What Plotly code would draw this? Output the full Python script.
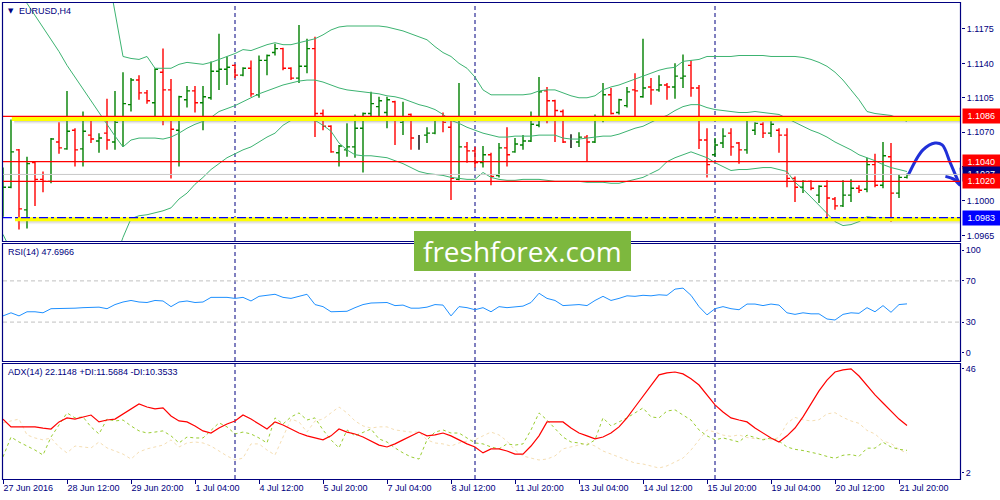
import plotly.graph_objects as go
import pandas as pd

# ------------------------------------------------------------------ data
symbol_title = "EURUSD,H4"
first_bar = "2016-06-27 04:00"

opens = [
    1.0999, 1.1014, 1.1052, 1.0991, 1.1039, 1.1022, 1.1020, 1.1060, 1.1053, 1.1072,
    1.1053, 1.1067, 1.1061, 1.1069, 1.1060, 1.1082, 1.1098, 1.1123, 1.1110, 1.1100,
    1.1131, 1.1113, 1.1072, 1.1103, 1.1112, 1.1100, 1.1105, 1.1132, 1.1134, 1.1138,
    1.1128, 1.1135, 1.1108, 1.1143, 1.1151, 1.1155, 1.1135, 1.1125, 1.1137, 1.1155,
    1.1089, 1.1076, 1.1049, 1.1052, 1.1055, 1.1074, 1.1089, 1.1096, 1.1090, 1.1101,
    1.1080, 1.1088, 1.1063, 1.1067, 1.1069, 1.1084, 1.1075, 1.1022, 1.1055, 1.1051,
    1.1039, 1.1047, 1.1026, 1.1054, 1.1050, 1.1057, 1.1061, 1.1077, 1.1112, 1.1102,
    1.1091, 1.1063, 1.1060, 1.1065, 1.1060, 1.1085, 1.1108, 1.1090, 1.1097, 1.1113,
    1.1106, 1.1116, 1.1113, 1.1118, 1.1116, 1.1125, 1.1138, 1.1115, 1.1062, 1.1047,
    1.1059, 1.1069, 1.1059, 1.1052, 1.1072, 1.1078, 1.1069, 1.1072, 1.1067, 1.1023,
    1.1014, 1.1020, 1.1006, 1.1015, 1.1002, 1.0995, 1.1006, 1.1013, 1.1012, 1.1037,
    1.1016, 1.1045, 1.1008, 1.1024]
highs = [
    1.1034, 1.1083, 1.1053, 1.1045, 1.1040, 1.1030, 1.1064, 1.1080, 1.1112, 1.1074,
    1.1091, 1.1082, 1.1069, 1.1104, 1.1112, 1.1131, 1.1125, 1.1128, 1.1113, 1.1135,
    1.1155, 1.1124, 1.1107, 1.1117, 1.1117, 1.1117, 1.1142, 1.1170, 1.1147, 1.1139,
    1.1136, 1.1143, 1.1148, 1.1149, 1.1160, 1.1156, 1.1136, 1.1179, 1.1165, 1.1167,
    1.1093, 1.1077, 1.1057, 1.1079, 1.1088, 1.1090, 1.1111, 1.1106, 1.1106, 1.1102,
    1.1101, 1.1089, 1.1067, 1.1075, 1.1084, 1.1090, 1.1082, 1.1120, 1.1060, 1.1055,
    1.1056, 1.1049, 1.1059, 1.1075, 1.1064, 1.1067, 1.1091, 1.1126, 1.1116, 1.1103,
    1.1093, 1.1068, 1.1070, 1.1067, 1.1088, 1.1120, 1.1115, 1.1104, 1.1116, 1.1130,
    1.1165, 1.1125, 1.1128, 1.1120, 1.1140, 1.1149, 1.1143, 1.1118, 1.1074, 1.1064,
    1.1074, 1.1074, 1.1060, 1.1084, 1.1080, 1.1080, 1.1081, 1.1074, 1.1074, 1.1025,
    1.1021, 1.1021, 1.1016, 1.1021, 1.1004, 1.1021, 1.1022, 1.1016, 1.1044, 1.1048,
    1.1060, 1.1059, 1.1027, 1.1028]
lows = [
    1.0984, 1.1013, 1.0971, 1.0972, 1.0995, 1.1009, 1.1018, 1.1048, 1.1052, 1.1035,
    1.1035, 1.1059, 1.1049, 1.1052, 1.1052, 1.1055, 1.1091, 1.1103, 1.1099, 1.1086,
    1.1077, 1.1023, 1.1035, 1.1095, 1.1090, 1.1072, 1.1103, 1.1113, 1.1118, 1.1125,
    1.1127, 1.1106, 1.1105, 1.1128, 1.1148, 1.1133, 1.1123, 1.1120, 1.1130, 1.1065,
    1.1072, 1.1049, 1.1035, 1.1045, 1.1044, 1.1029, 1.1082, 1.1084, 1.1074, 1.1057,
    1.1067, 1.1052, 1.1052, 1.1059, 1.1068, 1.1070, 1.1001, 1.1021, 1.1039, 1.1034,
    1.1034, 1.1016, 1.1024, 1.1035, 1.1049, 1.1052, 1.1060, 1.1075, 1.1079, 1.1060,
    1.1059, 1.1054, 1.1055, 1.1040, 1.1059, 1.1080, 1.1088, 1.1088, 1.1095, 1.1085,
    1.1105, 1.1098, 1.1111, 1.1103, 1.1104, 1.1115, 1.1106, 1.1053, 1.1024, 1.1045,
    1.1054, 1.1046, 1.1038, 1.1048, 1.1067, 1.1064, 1.1065, 1.1049, 1.1014, 1.0999,
    1.1008, 1.1011, 1.0998, 1.0982, 1.0991, 1.0994, 1.0999, 1.1008, 1.1009, 1.1014,
    1.1013, 1.0979, 1.1003, 1.1023]
closes = [
    1.1014, 1.1050, 1.0992, 1.1038, 1.1022, 1.1020, 1.1063, 1.1054, 1.1071, 1.1052,
    1.1071, 1.1063, 1.1064, 1.1062, 1.1080, 1.1099, 1.1123, 1.1110, 1.1102, 1.1134,
    1.1113, 1.1073, 1.1106, 1.1112, 1.1100, 1.1106, 1.1132, 1.1134, 1.1136, 1.1128,
    1.1135, 1.1109, 1.1143, 1.1148, 1.1155, 1.1135, 1.1125, 1.1137, 1.1155, 1.1089,
    1.1076, 1.1050, 1.1056, 1.1055, 1.1074, 1.1089, 1.1099, 1.1102, 1.1103, 1.1085,
    1.1085, 1.1064, 1.1063, 1.1069, 1.1082, 1.1080, 1.1023, 1.1055, 1.1051, 1.1039,
    1.1047, 1.1025, 1.1054, 1.1047, 1.1058, 1.1061, 1.1078, 1.1111, 1.1102, 1.1092,
    1.1060, 1.1063, 1.1065, 1.1060, 1.1085, 1.1108, 1.1089, 1.1103, 1.1111, 1.1112,
    1.1115, 1.1113, 1.1118, 1.1116, 1.1127, 1.1127, 1.1115, 1.1062, 1.1037, 1.1057,
    1.1066, 1.1055, 1.1052, 1.1082, 1.1079, 1.1069, 1.1078, 1.1067, 1.1023, 1.1014,
    1.1020, 1.1013, 1.1015, 1.1003, 1.0995, 1.1006, 1.1013, 1.1011, 1.1037, 1.1016,
    1.1046, 1.1008, 1.1024, 1.1027]

bb_upper = [
    1.1512, 1.1505, 1.1495, 1.1480, 1.1465, 1.1445, 1.1425, 1.1400, 1.1375, 1.1350,
    1.1325, 1.1300, 1.1275, 1.1237, 1.1192, 1.1147, 1.1145, 1.1144, 1.1147, 1.1135,
    1.1135, 1.1135, 1.1139, 1.1141, 1.1140, 1.1139, 1.1141, 1.1144, 1.1147, 1.1150,
    1.1154, 1.1153, 1.1156, 1.1159, 1.1161, 1.1159, 1.1159, 1.1161, 1.1163, 1.1165,
    1.1169, 1.1174, 1.1177, 1.1178, 1.1178, 1.1178, 1.1178, 1.1178, 1.1177, 1.1175,
    1.1173, 1.1170, 1.1167, 1.1164, 1.1157, 1.1151, 1.1147, 1.1140, 1.1135, 1.1126,
    1.1113, 1.1108, 1.1108, 1.1108, 1.1108, 1.1108, 1.1109, 1.1112, 1.1113, 1.1113,
    1.1110, 1.1107, 1.1105, 1.1105, 1.1107, 1.1113, 1.1116, 1.1118, 1.1121, 1.1124,
    1.1127, 1.1130, 1.1133, 1.1135, 1.1136, 1.1142, 1.1143, 1.1144, 1.1147, 1.1147,
    1.1147, 1.1147, 1.1148, 1.1148, 1.1148, 1.1148, 1.1147, 1.1147, 1.1147, 1.1147,
    1.1146, 1.1144, 1.1141, 1.1137, 1.1131, 1.1123, 1.1113, 1.1103, 1.1091, 1.1089,
    1.1088, 1.1087, 1.1084, 1.1081]
bb_middle = [
    1.1239, 1.1227, 1.1214, 1.1201, 1.1189, 1.1176, 1.1164, 1.1152, 1.1138, 1.1126,
    1.1114, 1.1101, 1.1089, 1.1077, 1.1066, 1.1055, 1.1062, 1.1064, 1.1064, 1.1064,
    1.1063, 1.1065, 1.1069, 1.1074, 1.1078, 1.1081, 1.1085, 1.1091, 1.1094, 1.1097,
    1.1101, 1.1105, 1.1109, 1.1112, 1.1115, 1.1118, 1.1120, 1.1122, 1.1123, 1.1123,
    1.1121, 1.1118, 1.1115, 1.1113, 1.1112, 1.1111, 1.1110, 1.1109, 1.1107, 1.1106,
    1.1104, 1.1101, 1.1098, 1.1096, 1.1093, 1.1088, 1.1082, 1.1079, 1.1075, 1.1072,
    1.1069, 1.1067, 1.1065, 1.1065, 1.1066, 1.1066, 1.1066, 1.1067, 1.1067, 1.1067,
    1.1064, 1.1063, 1.1063, 1.1064, 1.1065, 1.1066, 1.1066, 1.1068, 1.1071, 1.1074,
    1.1076, 1.1080, 1.1084, 1.1087, 1.1092, 1.1096, 1.1098, 1.1098, 1.1095, 1.1093,
    1.1092, 1.1091, 1.1090, 1.1090, 1.1091, 1.1090, 1.1089, 1.1088, 1.1084, 1.1080,
    1.1076, 1.1072, 1.1069, 1.1065, 1.1060, 1.1056, 1.1052, 1.1047, 1.1044, 1.1041,
    1.1037, 1.1034, 1.1032, 1.1030]
bb_lower = [
    1.0966, 1.0949, 1.0933, 1.0922, 1.0913, 1.0907, 1.0903, 1.0904, 1.0901, 1.0902,
    1.0903, 1.0902, 1.0903, 1.0917, 1.0940, 1.0963, 1.0982, 1.0985, 1.0986, 1.0988,
    1.0990, 1.0993, 1.1002, 1.1008, 1.1017, 1.1024, 1.1032, 1.1038, 1.1044, 1.1048,
    1.1052, 1.1055, 1.1060, 1.1065, 1.1069, 1.1077, 1.1082, 1.1084, 1.1083, 1.1082,
    1.1077, 1.1071, 1.1059, 1.1052, 1.1047, 1.1046, 1.1046, 1.1045, 1.1044, 1.1041,
    1.1038, 1.1034, 1.1030, 1.1028, 1.1027, 1.1026, 1.1024, 1.1023, 1.1022, 1.1022,
    1.1029, 1.1024, 1.1022, 1.1021, 1.1021, 1.1022, 1.1022, 1.1022, 1.1021, 1.1020,
    1.1020, 1.1020, 1.1020, 1.1019, 1.1019, 1.1019, 1.1018, 1.1018, 1.1020, 1.1022,
    1.1024, 1.1028, 1.1032, 1.1040, 1.1044, 1.1047, 1.1050, 1.1047, 1.1044, 1.1039,
    1.1035, 1.1031, 1.1032, 1.1032, 1.1033, 1.1034, 1.1034, 1.1032, 1.1030, 1.1019,
    1.1012, 1.1004, 1.0996, 1.0987, 1.0979, 1.0975, 1.0976, 1.0979, 1.0984, 1.0983,
    1.0983, 1.0982, 1.0981, 1.0981]

rsi = [
    36, 39, 36, 40, 40, 39, 43, 43, 43.5, 43.5,
    44, 44, 44.5, 43, 47, 49.5, 51, 49.5, 49, 51,
    50.5, 45, 49.5, 50.5, 49, 49.5, 54, 54, 54, 53,
    54, 50.5, 55, 56, 57, 54, 53, 55, 57, 47,
    45, 40, 40, 40.5, 44, 47, 48.5, 49, 49, 46,
    46.5, 43.5, 43.5, 44.5, 47, 46.5, 36, 45, 44, 42,
    44, 40, 45, 44, 45, 45.5, 49, 58, 53, 51,
    46, 46.5, 47, 46, 51, 55, 51, 53, 55.5, 55,
    56, 55.5, 56.5, 56, 62, 63, 56, 45, 37, 43,
    45, 43, 42, 47.5, 47.5, 46, 47.5, 46.5, 39, 37.5,
    39, 38, 38, 33, 32, 37.5, 39, 38.5, 44, 40,
    46, 39.5, 47, 47.6966]

adx = [
    24.8, 21.5, 21.5, 21.5, 21.5, 21.0, 20.6, 23.6, 25.3, 24.8,
    25.7, 26.5, 23.6, 24.4, 24.8, 27.0, 29.1, 31.2, 29.9, 29.1,
    29.5, 26.1, 24.0, 23.6, 21.9, 19.8, 18.9, 21.0, 22.7, 24.0,
    26.5, 24.8, 22.7, 20.6, 23.6, 22.3, 20.6, 18.9, 17.7, 16.8,
    16.0, 17.7, 20.6, 19.3, 18.5, 17.2, 15.5, 13.8, 13.0, 14.3,
    16.0, 17.7, 19.3, 17.7, 18.1, 18.9, 17.7, 16.0, 14.3, 13.0,
    10.5, 12.2, 12.2, 11.3, 10.0, 10.0, 13.4, 17.7, 23.6, 23.6,
    23.6, 21.0, 18.9, 17.7, 16.4, 17.2, 18.9, 21.5, 25.3, 29.9,
    34.6, 39.2, 43.5, 44.3, 44.7, 43.9, 41.8, 39.2, 35.0, 30.8,
    27.8, 25.3, 24.4, 23.6, 21.0, 18.9, 16.8, 15.1, 17.7, 21.0,
    25.7, 31.2, 36.7, 41.3, 44.7, 45.6, 46.0, 43.0, 38.8, 35.0,
    31.6, 28.2, 24.8, 22.1148]
plus_di = [
    8.8, 17.2, 15.1, 13.4, 11.7, 9.6, 17.2, 22.3, 27.4, 25.3,
    25.7, 21.5, 18.5, 24.8, 24.0, 24.4, 21.9, 19.8, 18.9, 19.3,
    19.8, 17.7, 14.7, 17.2, 16.8, 16.8, 20.2, 23.2, 21.5, 18.5,
    19.3, 18.5, 16.8, 14.7, 25.3, 22.7, 25.7, 27.4, 24.4, 25.3,
    20.2, 16.0, 12.6, 20.2, 17.7, 19.3, 20.6, 16.4, 15.1, 12.6,
    10.5, 8.8, 7.9, 16.0, 19.3, 20.2, 18.9, 18.9, 16.8, 14.7,
    14.3, 13.0, 12.2, 14.3, 13.8, 14.3, 20.2, 27.4, 24.4, 21.0,
    17.2, 15.1, 14.7, 13.8, 16.0, 25.3, 21.9, 23.6, 25.3, 27.4,
    29.5, 25.7, 25.3, 28.2, 28.7, 26.5, 24.4, 20.2, 17.7, 16.0,
    16.8, 16.0, 15.1, 18.0, 17.0, 16.0, 16.8, 15.5, 13.0, 12.0,
    11.5, 10.8, 10.0, 9.0, 8.2, 9.5, 9.8, 9.0, 12.5, 12.5,
    15.0, 13.0, 12.0, 11.5684]
minus_di = [
    23.2, 24.0, 24.8, 18.1, 16.8, 16.0, 16.8, 13.0, 10.5, 13.4,
    13.0, 12.6, 15.1, 12.6, 11.3, 10.0, 7.9, 10.9, 12.2, 13.0,
    13.8, 16.0, 13.0, 14.7, 15.1, 14.7, 13.4, 11.3, 9.2, 7.5,
    8.3, 14.3, 14.3, 11.7, 9.6, 17.2, 24.8, 23.6, 19.3, 24.0,
    24.8, 27.4, 29.9, 27.4, 24.0, 21.9, 21.0, 21.5, 21.5, 20.2,
    19.8, 19.3, 19.3, 16.0, 14.7, 14.3, 13.4, 14.7, 15.5, 16.0,
    17.7, 19.3, 18.1, 15.5, 11.7, 9.2, 8.3, 7.5, 7.9, 9.2,
    12.2, 13.0, 13.8, 14.7, 13.4, 11.3, 10.0, 8.8, 7.5, 6.2,
    5.8, 5.0, 4.1, 5.0, 6.7, 8.3, 11.7, 16.0, 20.2, 19.3,
    18.0, 17.5, 18.1, 17.0, 16.5, 16.5, 16.0, 17.0, 23.0, 25.5,
    24.5, 24.0, 24.5, 27.0, 27.5, 25.5, 24.0, 23.0, 20.0, 18.5,
    15.5, 14.5, 12.0, 10.3533]

tick_times = ["2016-06-27 04:00", "2016-06-28 12:00", "2016-06-29 20:00",
              "2016-07-01 04:00", "2016-07-04 12:00", "2016-07-05 20:00",
              "2016-07-07 04:00", "2016-07-08 12:00", "2016-07-11 20:00",
              "2016-07-13 04:00", "2016-07-14 12:00", "2016-07-15 20:00",
              "2016-07-19 04:00", "2016-07-20 12:00", "2016-07-21 20:00"]
tick_labels = ["27 Jun 2016", "28 Jun 12:00", "29 Jun 20:00", "1 Jul 04:00",
               "4 Jul 12:00", "5 Jul 20:00", "7 Jul 04:00", "8 Jul 12:00",
               "11 Jul 20:00", "13 Jul 04:00", "14 Jul 12:00", "15 Jul 20:00",
               "19 Jul 04:00", "20 Jul 12:00", "21 Jul 20:00"]
price_ticks = [1.0965, 1.1000, 1.1035, 1.1070, 1.1105, 1.1140, 1.1175]
rsi_ticks = [0, 30, 70, 100]
rsi_levels = [30, 70]
adx_ticks = [2, 46]

red_levels = [1.1086, 1.1040, 1.1020]
bid_price = 1.1027
support_level = 1.0983
zone_tops = [1.10855, 1.09835]
zone_start_bar = [1.1, 1.5]
price_tags = [("1.1086", 1.1086, "#FF0000"), ("1.1040", 1.1040, "#FF0000"),
              ("1.1027", 1.1027, "#000080"), ("1.1020", 1.1020, "#FF0000"),
              ("1.0983", 1.0983, "#0000FF")]

forecast_x = [113.2, 115.0, 116.5, 117.4, 118.4, 119.3, 119.7]
forecast_y = [1.1027, 1.1052, 1.1059, 1.1057, 1.1039, 1.1022, 1.1016]
arrow_barb_x = [117.8, 118.9, 119.7, 119.75]
arrow_barb_y = [1.1025, 1.1022, 1.1016, 1.1034]

rsi_title = "RSI(14) 47.6966"
adx_title = "ADX(14) 22.1148 +DI:11.5684 -DI:10.3533"
watermark = "freshforex.com"

# ------------------------------------------------------------------ build
n = len(closes)
bar_times = pd.date_range(first_bar, periods=n * 2, freq="4h")
bar_times = bar_times[bar_times.dayofweek < 5][:n]
xs = list(range(n))
tick_idx = [int(bar_times.get_loc(pd.Timestamp(t))) for t in tick_times]
week_starts = [i for i, t in enumerate(bar_times) if t.dayofweek == 0 and t.hour == 0]

W, H = 1000, 500
def px(v):
    return v / W
def py(v):
    return 1 - v / H

NAVY = "#000080"
FAM = "Liberation Sans, Arial, sans-serif"
small = dict(family=FAM, size=9, color=NAVY)

fig = go.Figure()


def ohlc_trace(idx, color, tw):
    return go.Ohlc(
        x=idx,
        open=[opens[i] for i in idx], high=[highs[i] for i in idx],
        low=[lows[i] for i in idx], close=[closes[i] for i in idx],
        increasing=dict(line=dict(color=color, width=1.4)),
        decreasing=dict(line=dict(color=color, width=1.4)),
        tickwidth=tw, xaxis="x", yaxis="y", hoverinfo="skip", showlegend=False)


up = [i for i in xs if closes[i] > opens[i]]
dn = [i for i in xs if closes[i] < opens[i]]
dj = [i for i in xs if closes[i] == opens[i]]
fig.add_trace(ohlc_trace(up, "#008000", 0.38))
fig.add_trace(ohlc_trace(dn, "#FF0000", 0.38))
if dj:
    gap = min([b - a for a, b in zip(dj, dj[1:])] or [1])
    fig.add_trace(ohlc_trace(dj, "#000000", min(0.5, 0.38 / gap)))

for band in (bb_upper, bb_middle, bb_lower):
    fig.add_trace(go.Scatter(x=xs, y=band, mode="lines", xaxis="x", yaxis="y",
                             line=dict(color="#3CB371", width=1), hoverinfo="skip",
                             showlegend=False))

fig.add_trace(go.Scatter(x=xs, y=rsi, mode="lines", xaxis="x", yaxis="y2",
                         line=dict(color="#1E90FF", width=1), hoverinfo="skip",
                         showlegend=False))
fig.add_trace(go.Scatter(x=xs, y=minus_di, mode="lines", xaxis="x", yaxis="y3",
                         line=dict(color="#F5DEB3", width=1, dash="3px,3px"),
                         hoverinfo="skip", showlegend=False))
fig.add_trace(go.Scatter(x=xs, y=plus_di, mode="lines", xaxis="x", yaxis="y3",
                         line=dict(color="#9ACD32", width=1, dash="3px,3px"),
                         hoverinfo="skip", showlegend=False))
fig.add_trace(go.Scatter(x=xs, y=adx, mode="lines", xaxis="x", yaxis="y3",
                         line=dict(color="#FF0000", width=1.2), hoverinfo="skip",
                         showlegend=False))

# forecast arrow
fig.add_trace(go.Scatter(x=forecast_x, y=forecast_y, mode="lines", xaxis="x", yaxis="y",
                         line=dict(color="#2030D8", width=3, shape="spline", smoothing=1.0),
                         hoverinfo="skip", showlegend=False))
fig.add_trace(go.Scatter(x=arrow_barb_x, y=arrow_barb_y, mode="lines", xaxis="x", yaxis="y",
                         line=dict(color="#2030D8", width=3, shape="spline"),
                         hoverinfo="skip", showlegend=False))

shapes = []
# week separators
for ax in ("y", "y2", "y3"):
    for w in week_starts:
        shapes.append(dict(type="line", xref="x", yref=f"{ax} domain", x0=w, x1=w, y0=0, y1=1,
                           line=dict(color=NAVY, width=1, dash="4px,3px"), layer="below"))
# RSI levels
for lv in rsi_levels:
    shapes.append(dict(type="line", xref="x domain", yref="y2", x0=0, x1=1, y0=lv, y1=lv,
                       line=dict(color="#C0C0C0", width=1, dash="4px,3px"), layer="below"))
# bid line
shapes.append(dict(type="line", xref="x domain", yref="y", x0=0, x1=1, y0=bid_price,
                   y1=bid_price, line=dict(color="#C8C8C8", width=1), layer="above"))
# yellow zones with shadow
for top, start in zip(zone_tops, zone_start_bar):
    for k, g in enumerate(["rgba(120,120,120,0.35)", "rgba(150,150,150,0.22)",
                           "rgba(180,180,180,0.12)"]):
        shapes.append(dict(type="rect", xref="x", yref="y", x0=start + 0.3, x1=119.75,
                           y0=top - 0.00042 - 0.0001 * (k + 1), y1=top - 0.00042 - 0.0001 * k,
                           fillcolor=g, line=dict(width=0), layer="above"))
    shapes.append(dict(type="rect", xref="x", yref="y", x0=start, x1=119.75,
                       y0=top - 0.00042, y1=top, fillcolor="#FFFF00",
                       line=dict(width=0), layer="above"))
# red levels
for lv in red_levels:
    shapes.append(dict(type="line", xref="x domain", yref="y", x0=0, x1=1, y0=lv, y1=lv,
                       line=dict(color="#FF0000", width=1.2), layer="above"))
# support dash-dot
shapes.append(dict(type="line", xref="x domain", yref="y", x0=0, x1=1, y0=support_level,
                   y1=support_level, line=dict(color="#0000FF", width=1.2, dash="dashdot"),
                   layer="above"))
# panel frames
for top, bot in ((2.5, 241.5), (243.5, 361.5), (363.5, 479.5)):
    shapes.append(dict(type="rect", xref="paper", yref="paper", x0=px(2.5), x1=px(960.5),
                       y0=py(bot), y1=py(top), line=dict(color=NAVY, width=1.2),
                       fillcolor="rgba(0,0,0,0)", layer="above"))
# watermark box
shapes.append(dict(type="rect", xref="paper", yref="paper", x0=px(414), x1=px(631),
                   y0=py(271), y1=py(231), fillcolor="#7DB83E", line=dict(width=0),
                   layer="above"))

annotations = [
    dict(text="▼", x=px(6), y=py(11), xref="paper", yref="paper", xanchor="left",
         yanchor="middle", showarrow=False, font=dict(family="DejaVu Sans", size=7, color=NAVY)),
    dict(text=symbol_title, x=px(17), y=py(11), xref="paper", yref="paper", xanchor="left",
         yanchor="middle", showarrow=False, font=small),
    dict(text=rsi_title, x=px(6), y=py(252), xref="paper", yref="paper", xanchor="left",
         yanchor="middle", showarrow=False, font=small),
    dict(text=adx_title, x=px(6), y=py(372), xref="paper", yref="paper", xanchor="left",
         yanchor="middle", showarrow=False, font=small),
    dict(text=watermark, x=px(522.5), y=py(251), xref="paper", yref="paper",
         xanchor="center", yanchor="middle", showarrow=False,
         font=dict(family="Open Sans, sans-serif", size=28, color="white")),
]
for label, val, col in price_tags:
    annotations.append(dict(text=" " + label, x=px(962), y=val, xref="paper", yref="y",
                            xanchor="left", yanchor="middle", showarrow=False, align="left",
                            width=34, height=10, borderpad=2, bgcolor=col,
                            font=dict(family=FAM, size=9, color="white")))

fig.update_layout(
    template="none",
    width=W, height=H, margin=dict(l=0, r=0, t=0, b=0, pad=0, autoexpand=False),
    paper_bgcolor="white", plot_bgcolor="white", showlegend=False,
    xaxis=dict(domain=[px(3), px(961)], range=[0, 119.75], anchor="y3", automargin=False,
               showgrid=False, zeroline=False, showline=False,
               tickvals=tick_idx, ticktext=tick_labels, ticks="outside", ticklen=4,
               tickcolor=NAVY, tickfont=small, ticklabelposition="outside right",
               rangeslider=dict(visible=False), fixedrange=True),
    yaxis=dict(domain=[py(241), py(3)], range=[1.09593, 1.12014], side="right",
               anchor="x", automargin=False, showgrid=False, zeroline=False, showline=False,
               tickvals=price_ticks, ticktext=[f"{v:.4f}" for v in price_ticks],
               ticks="outside", ticklen=3, tickcolor=NAVY, tickfont=small, fixedrange=True),
    yaxis2=dict(domain=[py(361), py(243)], range=[-7.8, 106.8], side="right",
                anchor="x", automargin=False, showgrid=False, zeroline=False, showline=False,
                tickvals=rsi_ticks, ticks="outside", ticklen=2, tickcolor=NAVY,
                tickfont=small, fixedrange=True),
    yaxis3=dict(domain=[py(479), py(363)], range=[-0.54, 48.5], side="right",
                anchor="x", automargin=False, showgrid=False, zeroline=False, showline=False,
                tickvals=adx_ticks, ticks="outside", ticklen=2, tickcolor=NAVY,
                tickfont=small, fixedrange=True),
    shapes=shapes, annotations=annotations,
)

fig.write_html("out.html", config={"displayModeBar": False},
               post_script="document.body.style.margin='0px';"
                           "document.body.style.padding='0px';"
                           "document.body.style.overflow='hidden';")
